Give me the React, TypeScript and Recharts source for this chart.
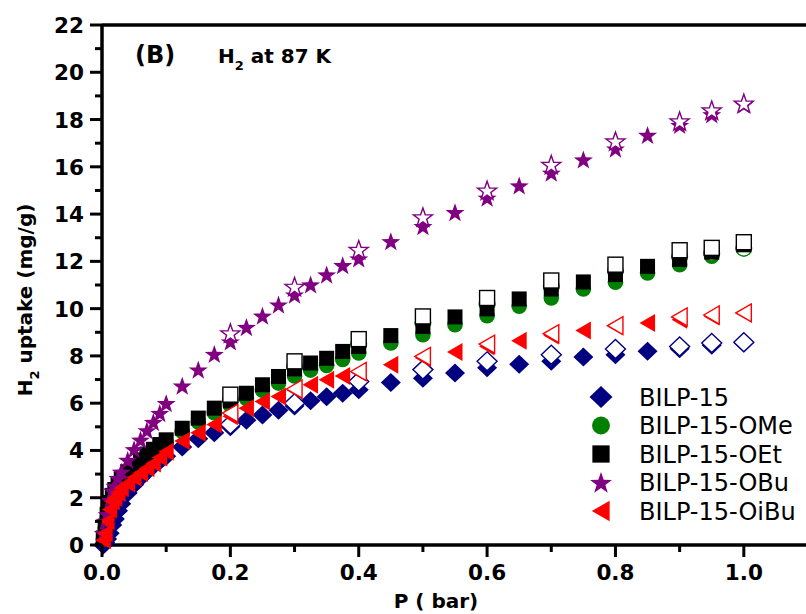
import React from 'react';
import { ScatterChart, Scatter, XAxis, YAxis, ReferenceLine } from 'recharts';

// adsorption branch (filled symbols)
const adsP = [0.002, 0.005, 0.008, 0.012, 0.016, 0.02, 0.025, 0.03, 0.04, 0.05, 0.06, 0.07, 0.08, 0.09, 0.1, 0.125, 0.15, 0.175, 0.2, 0.225, 0.25, 0.275, 0.3, 0.325, 0.35, 0.375, 0.4, 0.45, 0.5, 0.55, 0.6, 0.65, 0.7, 0.75, 0.8, 0.85, 0.9, 0.95, 1.0];
const bilp15Ads = [0.0, 0.1, 0.25, 0.5, 0.85, 1.1, 1.45, 1.75, 2.2, 2.55, 2.85, 3.1, 3.35, 3.55, 3.75, 4.15, 4.5, 4.75, 5.0, 5.28, 5.5, 5.7, 5.88, 6.1, 6.27, 6.42, 6.57, 6.88, 7.06, 7.28, 7.5, 7.65, 7.77, 7.95, 8.05, 8.2, 8.3, 8.45, 8.55];
const omeAds = [0.25, 0.7, 1.15, 1.65, 2.0, 2.25, 2.5, 2.7, 3.0, 3.25, 3.5, 3.75, 3.95, 4.15, 4.35, 4.8, 5.2, 5.6, 5.9, 6.2, 6.55, 6.85, 7.15, 7.4, 7.6, 7.85, 8.12, 8.55, 8.9, 9.32, 9.7, 10.1, 10.45, 10.83, 11.12, 11.51, 11.86, 12.22, 12.53];
const oetAds = [0.3, 0.8, 1.3, 1.8, 2.1, 2.35, 2.6, 2.8, 3.1, 3.35, 3.6, 3.85, 4.05, 4.25, 4.45, 4.94, 5.37, 5.79, 6.1, 6.42, 6.78, 7.13, 7.45, 7.7, 7.9, 8.19, 8.4, 8.86, 9.25, 9.65, 9.99, 10.41, 10.83, 11.13, 11.44, 11.79, 12.08, 12.39, 12.7];
const obuAds = [0.5, 1.0, 1.3, 1.9, 2.3, 2.5, 2.83, 3.1, 3.6, 4.05, 4.45, 4.85, 5.2, 5.58, 6.0, 6.74, 7.42, 8.08, 8.61, 9.22, 9.7, 10.17, 10.59, 11.02, 11.44, 11.84, 12.12, 12.85, 13.49, 14.08, 14.69, 15.21, 15.75, 16.31, 16.77, 17.35, 17.77, 18.22, 18.64];
const oibuAds = [0.2, 0.5, 1.0, 1.5, 1.85, 2.0, 2.2, 2.4, 2.6, 2.85, 3.05, 3.25, 3.45, 3.7, 3.95, 4.4, 4.75, 5.1, 5.45, 5.79, 6.07, 6.28, 6.55, 6.78, 6.99, 7.15, 7.3, 7.63, 7.91, 8.17, 8.4, 8.64, 8.86, 9.08, 9.25, 9.39, 9.53, 9.67, 9.8];

// desorption branch (open symbols)
const desP = [0.2, 0.3, 0.4, 0.5, 0.6, 0.7, 0.8, 0.9, 0.95, 1.0];
const bilp15Des = [5.1, 6.0, 6.92, 7.42, 7.77, 8.05, 8.29, 8.4, 8.55, 8.58];
const omeDes = [6.15, 7.55, 8.5, 9.4, 10.2, 10.95, 11.6, 12.2, 12.35, 12.55];
const oetDes = [6.36, 7.77, 8.71, 9.67, 10.45, 11.19, 11.86, 12.47, 12.57, 12.81];
const obuDes = [8.97, 10.94, 12.5, 13.88, 15.01, 16.1, 17.09, 17.94, 18.4, 18.69];
const oibuDes = [5.58, 6.6, 7.34, 7.98, 8.5, 8.94, 9.28, 9.65, 9.73, 9.82];

const seriesNames = ['BILP-15', 'BILP-15-OMe', 'BILP-15-OEt', 'BILP-15-OBu', 'BILP-15-OiBu'];
const xTicks = [0, 0.1, 0.2, 0.3, 0.4, 0.5, 0.6, 0.7, 0.8, 0.9, 1.0, 1.1];
const yTicks = [0, 1, 2, 3, 4, 5, 6, 7, 8, 9, 10, 11, 12, 13, 14, 15, 16, 17, 18, 19, 20, 21, 22];

const NAVY = '#000080';
const GREEN = '#008000';
const PURPLE = '#800080';
const RED = '#ff0000';
const FONT = '"DejaVu Sans", Arial, sans-serif';

const pts = (xs: number[], ys: number[]) => xs.map((p, i) => ({ p, v: ys[i] }));

type MarkProps = { cx: number; cy: number; color: string; open?: boolean; s?: number };

const paint = (color: string, open?: boolean) =>
  open ? { fill: '#fff', stroke: color, strokeWidth: 1.4 } : { fill: color, stroke: 'none' };

const Diamond = ({ cx, cy, color, open, s = 1 }: MarkProps) => (
  <polygon
    points={`${cx},${cy - 9.5 * s} ${cx + 10 * s},${cy} ${cx},${cy + 9.5 * s} ${cx - 10 * s},${cy}`}
    {...paint(color, open)}
  />
);
const Dot = ({ cx, cy, color, open, s = 1 }: MarkProps) => <circle cx={cx} cy={cy} r={7.8 * s} {...paint(color, open)} />;
const Square = ({ cx, cy, color, open, s = 1 }: MarkProps) => (
  <rect x={cx - 7.5 * s} y={cy - 7.5 * s} width={15 * s} height={15 * s} {...paint(color, open)} />
);
const Star = ({ cx, cy, color, open, s = 1 }: MarkProps) => {
  const p: string[] = [];
  for (let i = 0; i < 10; i++) {
    const a = (-90 + i * 36) * (Math.PI / 180);
    const r = (i % 2 === 0 ? 10 : 4) * s;
    p.push(`${cx + r * Math.cos(a)},${cy + 1 + r * Math.sin(a)}`);
  }
  return <polygon points={p.join(' ')} {...paint(color, open)} />;
};
const TriLeft = ({ cx, cy, color, open, s = 1 }: MarkProps) => (
  <polygon
    points={`${cx - 8 * s},${cy} ${cx + 7.5 * s},${cy - 9 * s} ${cx + 7.5 * s},${cy + 9 * s}`}
    {...paint(color, open)}
  />
);

const marks = [
  { Mark: Diamond, color: NAVY },
  { Mark: Dot, color: GREEN },
  { Mark: Square, color: '#000' },
  { Mark: Star, color: PURPLE },
  { Mark: TriLeft, color: RED },
];

const adsData = [bilp15Ads, omeAds, oetAds, obuAds, oibuAds];
const desData = [bilp15Des, omeDes, oetDes, obuDes, oibuDes];

const XTick = (props: any) => {
  const { x, y, payload } = props;
  const v = payload.value;
  const major = Math.round(v * 10) % 2 === 0;
  return (
    <g>
      <line x1={x} x2={x} y1={y} y2={y + (major ? 12 : 7)} stroke="#000" strokeWidth={3} />
      {major && (
        <text x={x} y={y + 35} textAnchor="middle" fontFamily={FONT} fontWeight="bold" fontSize={21.5} fill="#000">
          {v.toFixed(1)}
        </text>
      )}
    </g>
  );
};

const YTick = (props: any) => {
  const { x, y, payload } = props;
  const v = payload.value;
  const major = v % 2 === 0;
  return (
    <g>
      <line x1={x} x2={x - (major ? 12 : 7)} y1={y} y2={y} stroke="#000" strokeWidth={3} />
      {major && (
        <text x={x - 18} y={y + 8} textAnchor="end" fontFamily={FONT} fontWeight="bold" fontSize={21.5} fill="#000">
          {v}
        </text>
      )}
    </g>
  );
};

export default function App() {
  return (
    <div style={{ position: 'absolute', left: 0, top: 0, width: 806, height: 614, overflow: 'hidden', background: '#fff' }}>
      <ScatterChart width={820} height={614} margin={{ top: 25, right: 12, bottom: 39, left: 42 }}>
        <XAxis
          type="number"
          dataKey="p"
          domain={[0, 1.1]}
          ticks={xTicks}
          interval={0}
          height={30}
          tickSize={0}
          tickMargin={0}
          tickLine={false}
          tick={<XTick />}
          axisLine={{ stroke: '#000', strokeWidth: 3.5 }}
        />
        <YAxis
          type="number"
          dataKey="v"
          domain={[0, 22]}
          ticks={yTicks}
          interval={0}
          width={60}
          tickSize={0}
          tickMargin={0}
          tickLine={false}
          tick={<YTick />}
          axisLine={{ stroke: '#000', strokeWidth: 3.5 }}
        />
        <ReferenceLine y={22} stroke="#000" strokeWidth={3.5} />
        {marks.map(({ Mark, color }, i) => [
          <Scatter
            key={`a${i}`}
            name={seriesNames[i]}
            data={pts(adsP, adsData[i])}
            isAnimationActive={false}
            shape={(sp: any) => <Mark cx={sp.cx} cy={sp.cy} color={color} />}
          />,
          <Scatter
            key={`d${i}`}
            name={`${seriesNames[i]} des`}
            data={pts(desP, desData[i])}
            isAnimationActive={false}
            shape={(sp: any) => <Mark cx={sp.cx} cy={sp.cy} color={color} open />}
          />,
        ])}
      </ScatterChart>
      <svg width={806} height={614} style={{ position: 'absolute', left: 0, top: 0, pointerEvents: 'none' }}>
        <text x={135} y={63} fontFamily={FONT} fontWeight="bold" fontSize={24}>(B)</text>
        <text x={218} y={63} fontFamily={FONT} fontWeight="bold" fontSize={20}>
          H<tspan fontSize={13} dy={7}>2</tspan>
          <tspan dy={-7}> at 87 K</tspan>
        </text>
        <text x={436} y={608} textAnchor="middle" fontFamily={FONT} fontWeight="bold" fontSize={20}>P ( bar)</text>
        <text
          transform="translate(32,300) rotate(-90)"
          textAnchor="middle"
          fontFamily={FONT}
          fontWeight="bold"
          fontSize={20}
        >
          H<tspan fontSize={13} dy={7}>2</tspan>
          <tspan dy={-7}> uptake (mg/g)</tspan>
        </text>
        {marks.map(({ Mark, color }, i) => {
          const cy = 397 + i * 28.5;
          return (
            <g key={seriesNames[i]}>
              <Mark cx={601} cy={cy} color={color} s={1.15} />
              <text x={639} y={cy + 8.5} fontFamily={FONT} fontSize={24} fill="#000">
                {seriesNames[i]}
              </text>
            </g>
          );
        })}
      </svg>
    </div>
  );
}
